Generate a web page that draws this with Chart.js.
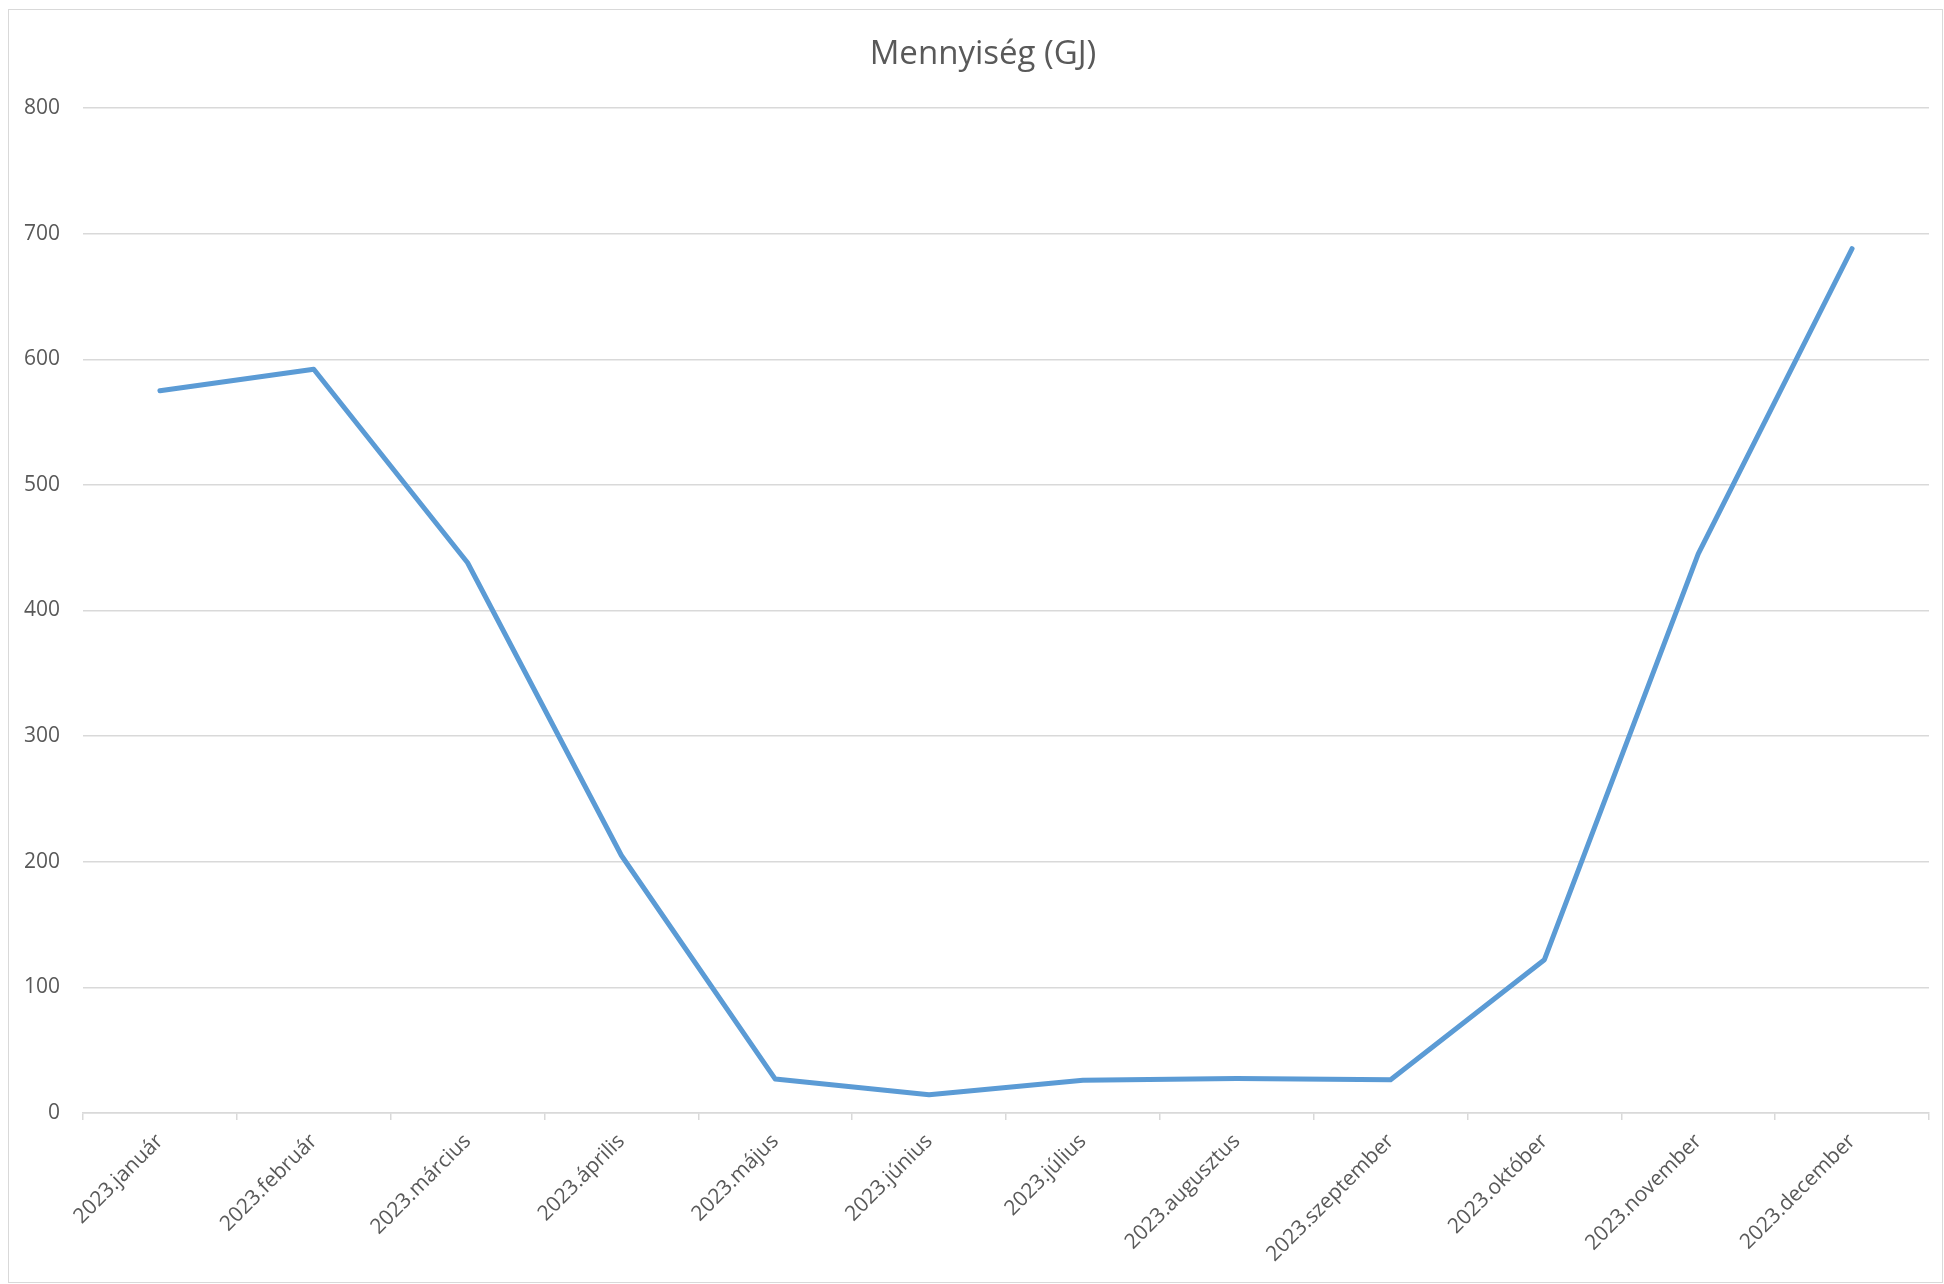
<!DOCTYPE html>
<html>
<head>
<meta charset="utf-8">
<script src="https://cdn.jsdelivr.net/npm/chart.js@4.4.1/dist/chart.umd.min.js"></script>
<style>
  html, body { margin: 0; padding: 0; background: #fff; }
  #wrap { position: relative; width: 1944px; height: 1284px; }
  #frame { position: absolute; left: 8px; top: 9px; right: 1px; bottom: 1px; border: 1px solid #d9d9d9; pointer-events: none; }
  canvas { position: absolute; left: 0; top: 0; }
</style>
</head>
<body>
<div id="wrap">
  <canvas id="chart" width="1944" height="1284"></canvas>
  <div id="frame"></div>
</div>
<script>
const months = [
  '2023.január', '2023.február', '2023.március', '2023.április',
  '2023.május', '2023.június', '2023.július', '2023.augusztus',
  '2023.szeptember', '2023.október', '2023.november', '2023.december'
]
const amountGJ = [575, 592, 438, 205, 27, 14.5, 26, 27.5, 26.5, 122, 445, 688]
const yTicks = [0, 100, 200, 300, 400, 500, 600, 700, 800]
const chartTitle = 'Mennyiség (GJ)'

const textColor = '#595959'
const gridColor = '#d9d9d9'

// title sits a bit right of the canvas middle, like the Excel original
const titlePlugin = {
  id: 'offsetTitle',
  afterDraw(chart) {
    const ctx = chart.ctx
    ctx.save()
    ctx.font = 'normal 33px "Open Sans"'
    ctx.fillStyle = textColor
    ctx.textAlign = 'center'
    ctx.textBaseline = 'middle'
    ctx.fillText(chartTitle, chart.width / 2 + 11, 55)
    ctx.restore()
  }
}

const data = {
  labels: months,
  datasets: [{
    label: chartTitle,
    data: amountGJ,
    borderColor: '#5b9bd5',
    backgroundColor: '#5b9bd5',
    borderWidth: 5,
    borderCapStyle: 'round',
    borderJoinStyle: 'round',
    pointRadius: 0,
    tension: 0,
    fill: false
  }]
}

const config = {
  type: 'line',
  data: data,
  options: {
    responsive: false,
    animation: false,
    layout: { padding: { left: 0, right: 15, top: 108, bottom: 0 } },
    plugins: {
      legend: { display: false },
      tooltip: { enabled: false },
      title: { display: false }
    },
    scales: {
      x: {
        offset: true,
        grid: {
          offset: true,
          drawOnChartArea: false,
          drawTicks: true,
          tickLength: 7,
          color: gridColor,
          lineWidth: 1.5
        },
        border: { display: true, color: gridColor, width: 1.5 },
        ticks: {
          color: textColor,
          font: { family: 'Open Sans', size: 21 },
          minRotation: 45,
          maxRotation: 45,
          autoSkip: false,
          padding: 9
        },
        afterFit: scale => { scale.height = 171 }
      },
      y: {
        min: 0,
        max: 800,
        afterBuildTicks: scale => { scale.ticks = yTicks.map(v => ({ value: v })) },
        grid: { color: gridColor, lineWidth: 1.5, drawTicks: false },
        border: { display: false },
        ticks: {
          color: textColor,
          font: { family: 'Open Sans', size: 21 },
          padding: 23
        },
        afterFit: scale => { scale.width = 83 }
      }
    }
  },
  plugins: [titlePlugin]
}

const amountChart = new Chart(document.getElementById('chart'), config)
</script>
</body>
</html>
